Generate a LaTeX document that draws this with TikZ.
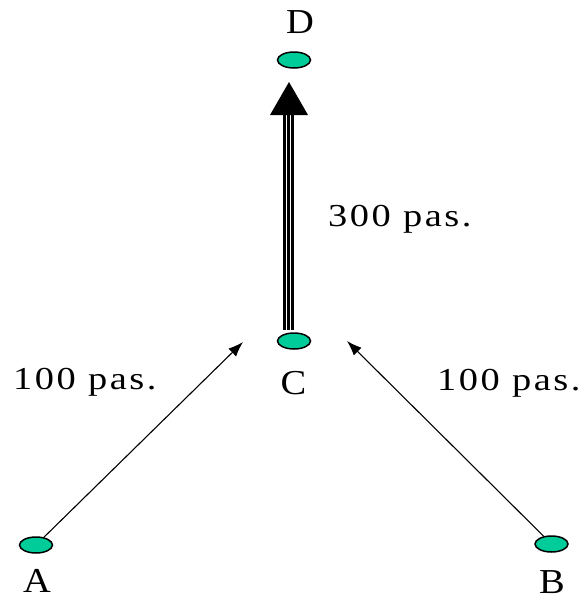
\documentclass[tikz,border=0pt]{standalone}
\usepackage{fontspec}
\setmainfont{Liberation Serif}
\usetikzlibrary{shapes.geometric,arrows.meta}
\definecolor{teal}{RGB}{0,204,153}
\newfontfamily\lblfont[FakeStretch=1.2,LetterSpace=8]{Liberation Serif}
\newfontfamily\letfont[FakeStretch=1.1]{Liberation Serif}
\tikzset{
  site/.style={ellipse,draw=black,line width=1.5pt,fill=teal,minimum width=33pt,minimum height=16pt,inner sep=0pt},
  dist/.style={font=\lblfont\fontsize{32}{34}\selectfont,inner sep=0pt,anchor=base west},
  letter/.style={font=\letfont\fontsize{35}{37}\selectfont,inner sep=0pt,anchor=base},
  walk/.style={line width=1.1pt,-{Latex[length=15pt,width=11pt]}},
  rail/.style={line width=2.6pt}
}
\begin{document}
\begin{tikzpicture}[x=1pt,y=-1pt]
\useasboundingbox (0,0) rectangle (584,600);
% sites
\node[site] (D) at (294,60) {};
\node[site] (C) at (294,341) {};
\node[site] (A) at (36,545) {};
\node[site] (B) at (551.5,544) {};
% letters
\node[letter] (tD) at (300,33) {D};
\node[letter] (tC) at (293.5,394) {C};
\node[letter] (tA) at (37,592) {A};
\node[letter] (tB) at (552,593) {B};
% distances
\node[dist] (dCD) at (328,226) {300 pas.};
\node[dist] (dAC) at (13,389) {100 pas.};
\node[dist] (dBC) at (437,390) {100 pas.};
% arrows to C
\coordinate (eA) at (243,342);
\coordinate (eB) at (347,341);
\draw[walk] (A) -- (eA);
\draw[walk] (B) -- (eB);
% triple arrow C -> D
\coordinate (vbot) at (288.5,330);
\coordinate (vtop) at (288.5,115);
\coordinate (tip) at (289,82);
\coordinate (bl) at (270,115);
\coordinate (br) at (308,115);
\draw[rail] ([xshift=-4pt]vbot) -- ([xshift=-4pt]vtop);
\draw[rail] (vbot) -- (vtop);
\draw[rail] ([xshift=4pt]vbot) -- ([xshift=4pt]vtop);
\fill[black] (tip) -- (bl) -- (br) -- cycle;
\end{tikzpicture}
\end{document}
